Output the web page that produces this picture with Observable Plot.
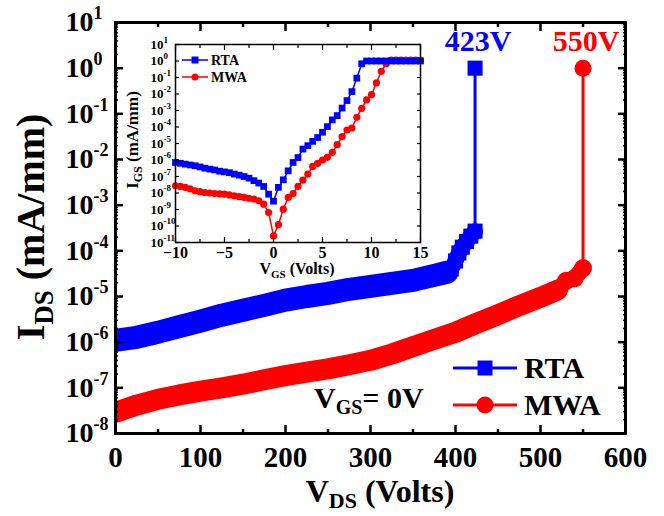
<!DOCTYPE html>
<html><head><meta charset="utf-8">
<script src="https://cdn.jsdelivr.net/npm/d3@7"></script>
<script src="https://cdn.jsdelivr.net/npm/@observablehq/plot@0.6"></script>
<style>
body{margin:0;background:#fff;}
#wrap{position:relative;width:664px;height:516px;}
#wrap svg{position:absolute;left:0;top:0;}
</style></head><body><div id="wrap"></div>
<script>
// ---------- main chart data (V_DS in volts, I_DS in mA/mm) ----------
const rtaV = [0, 25, 50, 75, 100, 125, 150, 175, 200, 225, 250, 275, 300, 325, 350, 375, 390];
const rtaI = [1.1e-6, 1.28e-6, 1.65e-6, 2.2e-6, 2.9e-6, 3.9e-6, 5.0e-6, 6.4e-6, 8.3e-6, 1.0e-5, 1.17e-5, 1.44e-5, 1.67e-5, 1.94e-5, 2.26e-5, 2.9e-5, 3.4e-5];
const rtaJumpV = [390, 395, 400, 404, 408, 413, 418, 423];
const rtaJumpI = [3.4e-5, 4.0e-5, 6.0e-5, 9.0e-5, 1.2e-4, 1.6e-4, 2.1e-4, 2.7e-4];
const rtaBreakV = [423, 423];
const rtaBreakI = [2.7e-4, 1.0];

const mwaV = [0, 25, 50, 75, 100, 125, 150, 175, 200, 225, 250, 275, 300, 325, 350, 375, 400, 425, 450, 475, 500, 520];
const mwaI = [2.9e-8, 4.2e-8, 5.6e-8, 7.0e-8, 8.5e-8, 1.0e-7, 1.2e-7, 1.5e-7, 1.85e-7, 2.2e-7, 2.6e-7, 3.2e-7, 4.0e-7, 5.5e-7, 8.0e-7, 1.15e-6, 1.65e-6, 2.6e-6, 4.0e-6, 6.3e-6, 9.6e-6, 1.38e-5];
const mwaTailV = [520, 530, 540, 550];
const mwaTailI = [1.38e-5, 2.2e-5, 2.5e-5, 4.2e-5];
const mwaBreakV = [550, 550];
const mwaBreakI = [4.2e-5, 1.0];

const breakLabels = [{v: 423, i: 1, t: "423V", s: "RTA"}, {v: 550, i: 1, t: "550V", s: "MWA"}];

// ---------- inset data (V_GS in volts, I_GS in mA/mm) ----------
const insetV = [-10, -9.5, -9, -8.5, -8, -7.5, -7, -6.5, -6, -5.5, -5, -4.5, -4, -3.5, -3, -2.5, -2, -1.5, -1, -0.5,
  0, 0.5, 1, 1.5, 2, 2.5, 3, 3.5, 4, 4.5, 5, 5.5, 6, 6.5, 7, 7.5, 8, 8.5, 9, 9.5,
  10, 10.5, 11, 11.5, 12, 12.5, 13, 13.5, 14, 14.5, 15];
const insetRtaI = [7.1e-7, 6.3e-7, 5.6e-7, 5.0e-7, 4.5e-7, 3.8e-7, 3.2e-7, 2.8e-7, 2.5e-7, 2.1e-7, 1.9e-7, 1.7e-7, 1.4e-7, 1.2e-7, 1.0e-7, 7.9e-8, 5.6e-8, 4.0e-8, 2.5e-8, 8.5e-9,
  3.2e-9, 2.2e-8, 6.3e-8, 2.2e-7, 7.1e-7, 1.4e-6, 4.6e-6, 7.4e-6, 1.35e-5, 2.3e-5, 4.8e-5, 1.05e-4, 2.7e-4, 4.9e-4, 1.4e-3, 4.0e-3, 1.4e-2, 9.1e-2, 0.68, 1.0,
  1.0, 1.0, 1.0, 1.0, 1.0, 1.0, 1.0, 1.0, 1.0, 1.0, 1.0];
const insetMwaI = [2.75e-8, 2.5e-8, 2.2e-8, 1.8e-8, 1.35e-8, 1.2e-8, 1.07e-8, 1.0e-8, 9.3e-9, 8.9e-9, 8.5e-9, 7.6e-9, 6.8e-9, 6.0e-9, 5.4e-9, 4.8e-9, 4.3e-9, 3.4e-9, 2.1e-9, 6.6e-10,
  2.5e-11, 1.2e-10, 1.05e-9, 5.4e-9, 9.3e-9, 2.5e-8, 6.0e-8, 1.4e-7, 4.1e-7, 6.3e-7, 1.0e-6, 1.45e-6, 2.9e-6, 8.5e-6, 2.6e-5, 6.6e-5, 8.7e-5, 3.9e-4, 1.35e-3, 4.4e-3,
  9.1e-3, 4.7e-2, 0.24, 0.68, 1.15, 1.15, 1.15, 1.15, 1.15, 1.15, 1.15];

// ---------- tick values ----------
const xMajor = [0, 100, 200, 300, 400, 500, 600];
const xMinor = [50, 150, 250, 350, 450, 550];
const yMajor = [1e-8, 1e-7, 1e-6, 1e-5, 1e-4, 1e-3, 1e-2, 1e-1, 1e0, 1e1];
const yMinor = [];
for (let e = -8; e < 1; e++) for (let m = 2; m < 10; m++) yMinor.push(m * Math.pow(10, e));
const insetXMajor = [-10, -5, 0, 5, 10, 15];
const insetXMinor = [-7.5, -2.5, 2.5, 7.5, 12.5];
const insetYMajor = [1e-11, 1e-10, 1e-9, 1e-8, 1e-7, 1e-6, 1e-5, 1e-4, 1e-3, 1e-2, 1e-1, 1e0, 1e1];

const BLUE = "#0000ff", RED = "#ff0000";
const FONT = "'Liberation Serif', 'Times New Roman', serif";
const rows = (xs, ys) => xs.map((v, k) => ({v, i: ys[k]}));
const expFmt = d => "10^" + Math.round(Math.log10(d));
const noText = () => "";

const rtaBand = rows(rtaV, rtaI), rtaJump = rows(rtaJumpV, rtaJumpI), rtaBreak = rows(rtaBreakV, rtaBreakI);
const mwaBand = rows(mwaV, mwaI), mwaTail = rows(mwaTailV, mwaTailI), mwaBreak = rows(mwaBreakV, mwaBreakI);

const main = Plot.plot({
  width: 664, height: 516,
  marginLeft: 115, marginRight: 39, marginTop: 22, marginBottom: 83,
  x: {domain: [0, 600], label: null},
  y: {type: "log", domain: [1e-8, 10], label: null},
  style: {fontFamily: FONT, fontWeight: "bold", background: "white", color: "black", overflow: "visible"},
  marks: [
    Plot.line(rtaBand, {x: "v", y: "i", stroke: BLUE, strokeWidth: 23, strokeLinejoin: "round", clip: true}),
    Plot.line(mwaBand, {x: "v", y: "i", stroke: RED, strokeWidth: 21, strokeLinejoin: "round", clip: true}),
    Plot.line(rtaJump, {x: "v", y: "i", stroke: BLUE, strokeWidth: 16, strokeLinejoin: "round"}),
    Plot.dot(rtaJump, {x: "v", y: "i", symbol: "square", r: 8.5, fill: BLUE}),
    Plot.line(rtaBreak, {x: "v", y: "i", stroke: BLUE, strokeWidth: 3}),
    Plot.line(mwaTail, {x: "v", y: "i", stroke: RED, strokeWidth: 16}),
    Plot.dot(mwaTail, {x: "v", y: "i", symbol: "circle", r: 9, fill: RED}),
    Plot.line(mwaBreak, {x: "v", y: "i", stroke: RED, strokeWidth: 3}),
    Plot.dot(breakLabels, {x: "v", y: "i", symbol: d => d.s === "RTA" ? "square" : "circle", r: 8.5, fill: d => d.s === "RTA" ? BLUE : RED}),
    Plot.text(breakLabels, {x: "v", y: "i", text: "t", dy: -17, dx: 3, lineAnchor: "bottom", fontSize: 30, fontWeight: "bold", fill: d => d.s === "RTA" ? BLUE : RED}),
    // inward ticks
    Plot.axisX({ticks: xMajor, tickSize: -8, strokeWidth: 2.5, tickFormat: noText, label: null}),
    Plot.axisX({ticks: xMinor, tickSize: -4, strokeWidth: 2.5, tickFormat: noText, label: null}),
    Plot.axisX({anchor: "top", ticks: xMajor, tickSize: -8, strokeWidth: 2.5, tickFormat: noText, label: null}),
    Plot.axisX({anchor: "top", ticks: xMinor, tickSize: -4, strokeWidth: 2.5, tickFormat: noText, label: null}),
    Plot.axisY({ticks: yMajor, tickSize: -8, strokeWidth: 2.5, tickFormat: noText, label: null}),
    Plot.axisY({ticks: yMinor, tickSize: -3, strokeWidth: 1.5, tickFormat: noText, label: null}),
    Plot.axisY({anchor: "right", ticks: yMajor, tickSize: -8, strokeWidth: 2.5, tickFormat: noText, label: null}),
    Plot.axisY({anchor: "right", ticks: yMinor, tickSize: -3, strokeWidth: 1.5, tickFormat: noText, label: null}),
    // labels
    Plot.axisX({ticks: xMajor, tickSize: 0, tickPadding: 13, fontSize: 29, label: null}),
    Plot.axisY({ticks: yMajor, tickSize: 0, tickPadding: 50, textAnchor: "start", fontSize: 28, tickFormat: expFmt, label: null}),
    Plot.frame({stroke: "black", strokeWidth: 3})
  ]
});

const inset = Plot.plot({
  width: 664, height: 516,
  marginLeft: 175, marginRight: 244, marginTop: 44, marginBottom: 274,
  x: {domain: [-10, 15], label: null},
  y: {type: "log", domain: [1e-11, 10], label: null},
  style: {fontFamily: FONT, fontWeight: "bold", background: "transparent", color: "black", overflow: "visible", pointerEvents: "none"},
  marks: [
    Plot.line(rows(insetV, insetMwaI), {x: "v", y: "i", stroke: RED, strokeWidth: 1.5}),
    Plot.dot(rows(insetV, insetMwaI), {x: "v", y: "i", symbol: "circle", r: 3.6, fill: RED}),
    Plot.line(rows(insetV, insetRtaI), {x: "v", y: "i", stroke: BLUE, strokeWidth: 1.5}),
    Plot.dot(rows(insetV, insetRtaI), {x: "v", y: "i", symbol: "square", r: 3.8, fill: BLUE}),
    Plot.axisX({ticks: insetXMajor, tickSize: -5, strokeWidth: 1.2, tickFormat: noText, label: null}),
    Plot.axisX({ticks: insetXMinor, tickSize: -3, strokeWidth: 1.2, tickFormat: noText, label: null}),
    Plot.axisX({anchor: "top", ticks: insetXMajor, tickSize: -5, strokeWidth: 1.2, tickFormat: noText, label: null}),
    Plot.axisX({anchor: "top", ticks: insetXMinor, tickSize: -3, strokeWidth: 1.2, tickFormat: noText, label: null}),
    Plot.axisY({ticks: insetYMajor, tickSize: -4, strokeWidth: 1.2, tickFormat: noText, label: null}),
    Plot.axisY({anchor: "right", ticks: insetYMajor, tickSize: -4, strokeWidth: 1.2, tickFormat: noText, label: null}),
    Plot.axisX({ticks: insetXMajor, tickSize: 0, tickPadding: 4, fontSize: 16, label: null}),
    Plot.axisY({ticks: insetYMajor, tickSize: 0, tickPadding: 25, textAnchor: "start", fontSize: 13, tickFormat: expFmt, label: null}),
    Plot.frame({stroke: "black", strokeWidth: 1.5})
  ]
});

const NS = "http://www.w3.org/2000/svg";
function superscripts(svg, expSize, dy) {
  svg.querySelectorAll('g[aria-label="y-axis tick label"] text').forEach(t => {
    const m = t.textContent.match(/^10\^(.+)$/);
    if (!m) return;
    t.textContent = "";
    const a = document.createElementNS(NS, "tspan");
    a.textContent = "10";
    t.appendChild(a);
    const b = document.createElementNS(NS, "tspan");
    b.textContent = m[1];
    b.setAttribute("font-size", expSize);
    b.setAttribute("dy", dy);
    t.appendChild(b);
  });
}
superscripts(main, 18, -12);
superscripts(inset, 9, -6);

// text with subscript helper
function subText(svg, parts, attrs) {
  const t = d3.select(svg).append("text").attr("font-family", FONT).attr("font-weight", "bold")
    .attr("text-anchor", "start").attr("fill", "black");
  for (const [k, v] of Object.entries(attrs)) t.attr(k, v);
  for (const p of parts) {
    const s = t.append("tspan").text(p.text);
    if (p.size) s.attr("font-size", p.size);
    if (p.dy) s.attr("dy", p.dy);
  }
  return t;
}
// main axis titles
subText(main, [{text: "V"}, {text: "DS", size: 22, dy: 6}, {text: " (Volts)", dy: -6}],
  {x: 380, y: 502, "text-anchor": "middle", "font-size": 32});
subText(main, [{text: "I"}, {text: "DS", size: 27, dy: 9}, {text: " (mA/mm)", dy: -9}],
  {transform: "translate(44,227) rotate(-90)", "text-anchor": "middle", "font-size": 40});
subText(main, [{text: "V"}, {text: "GS", size: 20, dy: 6}, {text: "= 0V", dy: -6}],
  {x: 314, y: 408, "font-size": 30});
// inset axis titles
subText(inset, [{text: "V"}, {text: "GS", size: 11, dy: 4}, {text: " (Volts)", dy: -4}],
  {x: 297, y: 274, "text-anchor": "middle", "font-size": 16});
subText(inset, [{text: "I"}, {text: "GS", size: 12, dy: 4}, {text: " (mA/mm)", dy: -4}],
  {transform: "translate(138,140) rotate(-90)", "text-anchor": "middle", "font-size": 17});

// legends
function legend(svg, items) {
  const g = d3.select(svg).append("g");
  for (const it of items) {
    g.append("line").attr("x1", it.x1).attr("x2", it.x2).attr("y1", it.y).attr("y2", it.y)
      .attr("stroke", it.color).attr("stroke-width", it.lw);
    const cx = (it.x1 + it.x2) / 2;
    if (it.shape === "square") g.append("rect").attr("x", cx - it.m / 2).attr("y", it.y - it.m / 2)
      .attr("width", it.m).attr("height", it.m).attr("fill", it.color);
    else g.append("circle").attr("cx", cx).attr("cy", it.y).attr("r", it.m / 2).attr("fill", it.color);
    g.append("text").attr("x", it.x2 + it.gap).attr("y", it.y + it.base).attr("font-family", FONT)
      .attr("text-anchor", "start")
      .attr("font-weight", "bold").attr("font-size", it.fs).attr("fill", "black").text(it.label);
  }
}
legend(main, [
  {label: "RTA", color: BLUE, shape: "square", x1: 453, x2: 517, y: 368, m: 15, lw: 3, gap: 7, base: 10, fs: 30},
  {label: "MWA", color: RED, shape: "circle", x1: 453, x2: 517, y: 405, m: 17, lw: 3, gap: 7, base: 10, fs: 30}
]);
legend(inset, [
  {label: "RTA", color: BLUE, shape: "square", x1: 182, x2: 208, y: 60, m: 7, lw: 1.5, gap: 3, base: 5, fs: 14},
  {label: "MWA", color: RED, shape: "circle", x1: 182, x2: 208, y: 77, m: 7, lw: 1.5, gap: 3, base: 5, fs: 14}
]);

const wrap = document.getElementById("wrap");
wrap.appendChild(main);
wrap.appendChild(inset);
</script></body></html>
